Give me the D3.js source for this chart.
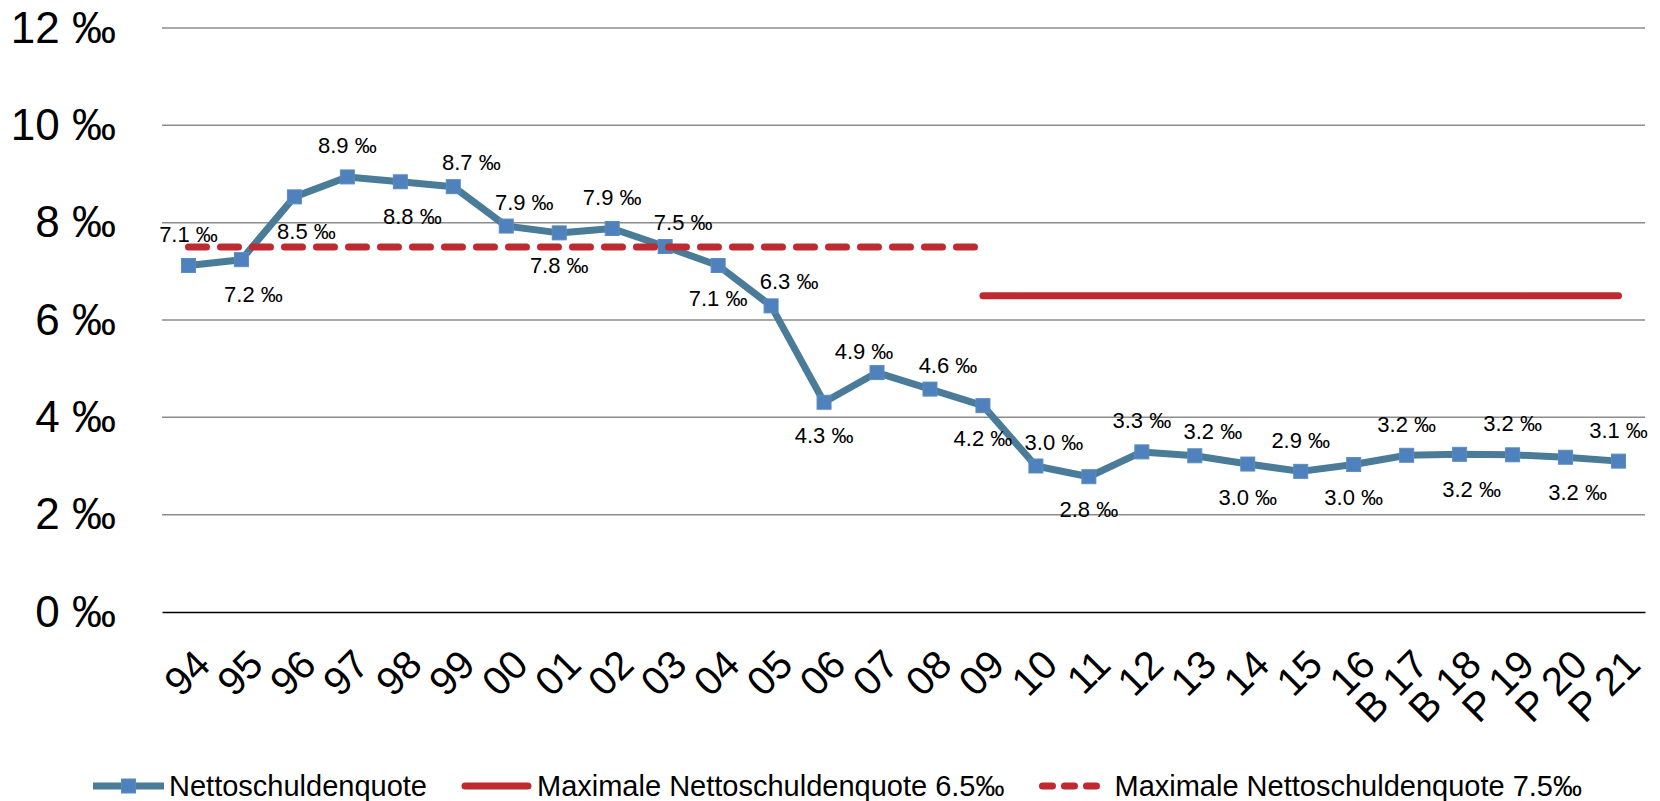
<!DOCTYPE html>
<html>
<head>
<meta charset="utf-8">
<script src="https://cdn.jsdelivr.net/npm/d3@7"></script>
<style>
  body { margin: 0; background: #fff; }
  svg { display: block; font-family: "Liberation Sans", Arial, sans-serif; }
</style>
</head>
<body>
<svg id="chart" width="1660" height="801"></svg>
<script>
// categories (years), last ones are budget (B) and plan (P)
const categories = ["94", "95", "96", "97", "98", "99", "00", "01", "02", "03", "04", "05", "06", "07",
    "08", "09", "10", "11", "12", "13", "14", "15", "16", "B 17", "B 18", "P 19", "P 20", "P 21"];

// Nettoschuldenquote in per mille
const quote = [7.12, 7.24, 8.53, 8.94, 8.84, 8.74, 7.93, 7.79, 7.88, 7.51, 7.12, 6.29, 4.31, 4.92,
    4.58, 4.24, 3.00, 2.78, 3.29, 3.21, 3.04, 2.89, 3.03, 3.22, 3.24, 3.23, 3.18, 3.10];

// limit 7.5 per mille (until 09) and 6.5 per mille (from 09)
const max75 = [7.5, 7.5, 7.5, 7.5, 7.5, 7.5, 7.5, 7.5, 7.5, 7.5, 7.5, 7.5, 7.5, 7.5,
    7.5, 7.5, null, null, null, null, null, null, null, null, null, null, null, null];
const max65 = [null, null, null, null, null, null, null, null, null, null, null, null, null, null,
    null, 6.5, 6.5, 6.5, 6.5, 6.5, 6.5, 6.5, 6.5, 6.5, 6.5, 6.5, 6.5, 6.5];

// where each data label sits relative to its point
const labelPlace = ["t", "br", "br", "t", "br", "tr", "tr", "b", "t", "tr", "b", "tr", "b", "tl",
    "tr", "b", "tr", "b", "t", "tr", "b", "t", "b", "t", "br", "t", "br", "t"];

const yTicks = [0, 2, 4, 6, 8, 10, 12];

const seriesNames = ["Nettoschuldenquote", "Maximale Nettoschuldenquote 6.5‰", "Maximale Nettoschuldenquote 7.5‰"];

const blueLine = "#4a7c9a";
const markerFill = "#4f81bd";
const red = "#be2a30";

const svg = d3.select("#chart");

const x = d3.scaleBand().domain(categories).range([162, 1645]);
const y = d3.scaleLinear().domain([0, 12]).range([612, 28]);
const xc = c => x(c) + x.bandwidth() / 2;

// gridlines
svg.append("g")
    .selectAll("line")
    .data(yTicks.filter(t => t > 0))
    .enter()
    .append("line")
    .attr("x1", 162)
    .attr("x2", 1645)
    .attr("y1", d => y(d))
    .attr("y2", d => y(d))
    .attr("stroke", "#8c8c8c")
    .attr("stroke-width", 1.5);

// y axis labels
const yAxis = svg.append("g")
    .attr("transform", "translate(116,0)")
    .call(d3.axisLeft(y).tickValues(yTicks).tickSize(0).tickPadding(0).tickFormat(d => d + " ‰"));
yAxis.select(".domain").remove();
yAxis.selectAll("text")
    .attr("font-size", "44px")
    .attr("font-family", "Liberation Sans, Arial, sans-serif")
    .attr("fill", "#000");

// x axis
const xAxis = svg.append("g")
    .attr("transform", "translate(0,612)")
    .call(d3.axisBottom(x).tickSize(0).tickFormat(d => d));
xAxis.select(".domain")
    .attr("stroke", "#000")
    .attr("stroke-width", 1.5);
xAxis.selectAll("text")
    .attr("font-size", "40px")
    .attr("font-family", "Liberation Sans, Arial, sans-serif")
    .attr("fill", "#000")
    .attr("text-anchor", "end")
    .attr("dy", "0.35em")
    .attr("y", 0)
    .attr("transform", "translate(14,45) rotate(-45)");

const data = categories.map((c, i) => ({ cat: c, v: quote[i], l75: max75[i], l65: max65[i], place: labelPlace[i] }));

// main series
const line = d3.line().x(d => xc(d.cat)).y(d => y(d.v));
svg.append("path")
    .datum(data)
    .attr("d", line)
    .attr("fill", "none")
    .attr("stroke", blueLine)
    .attr("stroke-width", 7)
    .attr("stroke-linejoin", "round");

svg.append("g")
    .selectAll("rect")
    .data(data)
    .enter()
    .append("rect")
    .attr("x", d => xc(d.cat) - 7)
    .attr("y", d => y(d.v) - 7)
    .attr("width", 14)
    .attr("height", 14)
    .attr("fill", markerFill)
    .attr("stroke", "#5a8cc4")
    .attr("stroke-width", 1);

// limit lines
const line75 = d3.line().defined(d => d.l75 != null).x(d => xc(d.cat)).y(d => y(d.l75));
const line65 = d3.line().defined(d => d.l65 != null).x(d => xc(d.cat)).y(d => y(d.l65));

svg.append("path")
    .datum(data)
    .attr("d", line65)
    .attr("fill", "none")
    .attr("stroke", red)
    .attr("stroke-width", 7)
    .attr("stroke-linecap", "round");

svg.append("path")
    .datum(data)
    .attr("d", line75)
    .attr("fill", "none")
    .attr("stroke", red)
    .attr("stroke-width", 7)
    .attr("stroke-linecap", "round")
    .attr("stroke-dasharray", "18 14");

// data labels
const offsets = {
    t: [0, -31], b: [0, 33], tr: [18, -24], br: [12, 35], tl: [-13, -21]
};
const fmt = d3.format(".1f");
svg.append("g")
    .selectAll("text")
    .data(data)
    .enter()
    .append("text")
    .attr("x", d => xc(d.cat) + offsets[d.place][0])
    .attr("y", d => y(d.v) + offsets[d.place][1])
    .attr("text-anchor", "middle")
    .attr("dominant-baseline", "central")
    .attr("font-size", "22px")
    .attr("fill", "#000")
    .text(d => fmt(d.v) + " ‰");

// legend
const legend = svg.append("g").attr("transform", "translate(0,786)");
const symbolW = 71;
const items = [];
seriesNames.forEach((name, i) => {
    const g = legend.append("g");
    const t = g.append("text")
        .attr("x", symbolW + 5)
        .attr("dominant-baseline", "central")
        .attr("font-size", "29px")
        .attr("fill", "#000")
        .text(name);
    const w = symbolW + 5 + t.node().getComputedTextLength();
    items.push({ g, w, i });
});
const gap = 34;
const total = d3.sum(items, d => d.w) + gap * (items.length - 1);
let cursor = 93;
items.forEach(item => {
    item.g.attr("transform", `translate(${cursor},0)`);
    if (item.i === 0) {
        item.g.append("line").attr("x1", 0).attr("x2", symbolW)
            .attr("stroke", blueLine).attr("stroke-width", 7);
        item.g.append("rect").attr("x", symbolW / 2 - 7).attr("y", -7)
            .attr("width", 14).attr("height", 14)
            .attr("fill", markerFill).attr("stroke", "#5a8cc4");
    } else if (item.i === 1) {
        item.g.append("line").attr("x1", 4).attr("x2", symbolW - 4)
            .attr("stroke", red).attr("stroke-width", 7).attr("stroke-linecap", "round");
    } else {
        item.g.append("line").attr("x1", 4).attr("x2", symbolW - 4)
            .attr("stroke", red).attr("stroke-width", 7).attr("stroke-linecap", "round")
            .attr("stroke-dasharray", "10 12");
    }
    cursor += item.w + gap;
});
</script>
</body>
</html>
